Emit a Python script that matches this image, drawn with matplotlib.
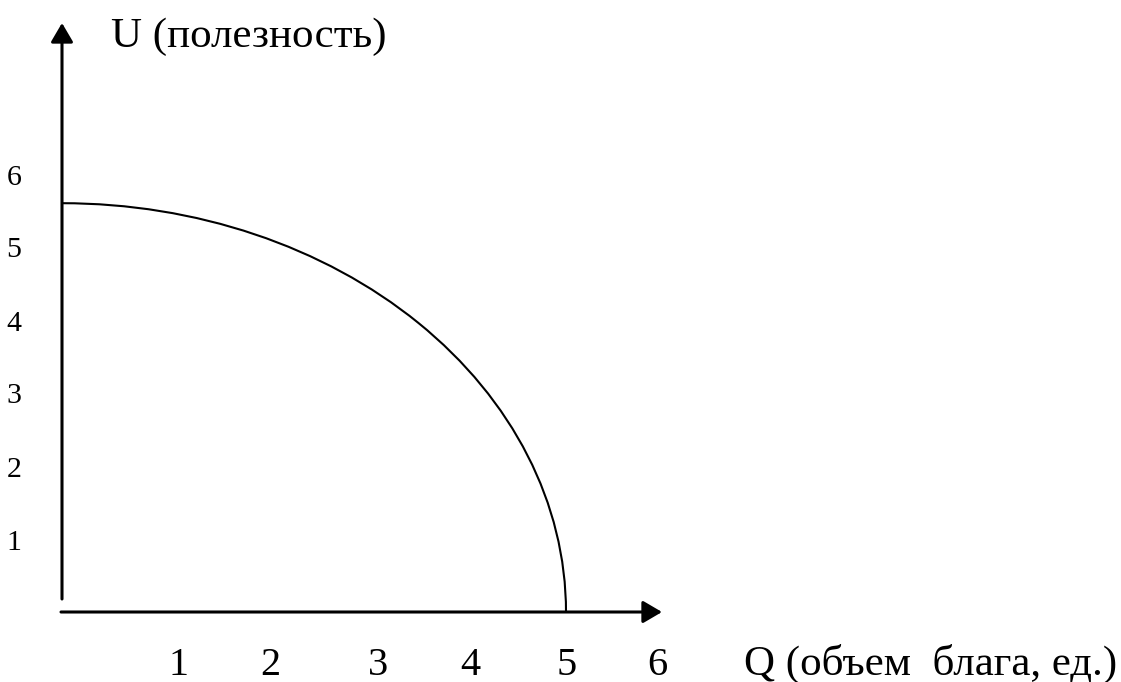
import matplotlib
matplotlib.use("Agg")
import matplotlib.pyplot as plt
from matplotlib.patches import Arc

# ---- data ----
x_ticks = [1, 2, 3, 4, 5, 6]
y_ticks = [1, 2, 3, 4, 5, 6]
q_max = 5.0      # curve meets Q axis
u_max = 5.6      # curve meets U axis
x_label = "Q (объем  блага, ед.)"
y_label = "U (полезность)"

# ---- layout (pixel geometry of the reference) ----
W, H = 1121, 682
ox, oy = 62, 612          # origin in pixels
sx = 100.8                # px per Q unit
sy = 73.0                 # px per U unit
x_label_px = [178, 270, 378, 470, 567, 657]
y_label_base = [550, 477, 403, 331, 257, 185]

def px2x(p):
    return (p - ox) / sx

def py2y(p):
    return (oy - p) / sy

plt.rcParams['font.family'] = ['Liberation Serif', 'DejaVu Serif']

fig = plt.figure(figsize=(W / 100, H / 100), dpi=100)
ax = fig.add_axes([0, 0, 1, 1])
ax.set_xlim(px2x(0), px2x(W))
ax.set_ylim(py2y(H), py2y(0))
ax.axis('off')

astyle = '-|>,head_length=0.58,head_width=0.34'
# axes with arrows
ax.annotate('', xy=(px2x(662), 0), xytext=(px2x(61), 0),
            arrowprops=dict(arrowstyle=astyle, lw=2.2, color='black',
                            mutation_scale=20, shrinkA=0, shrinkB=0))
ax.annotate('', xy=(0, py2y(23)), xytext=(0, py2y(599)),
            arrowprops=dict(arrowstyle=astyle, lw=2.2, color='black',
                            mutation_scale=20, shrinkA=0, shrinkB=0))

# utility curve (quarter ellipse)
ax.add_patch(Arc((0, 0), 2 * q_max, 2 * u_max, theta1=0, theta2=90,
                 lw=1.5, color='black'))

# tick labels
for v, p in zip(x_ticks, x_label_px):
    ax.text(px2x(p), py2y(675), str(v), ha='center', va='baseline',
            fontsize=29, color='black')
for v, p in zip(y_ticks, y_label_base):
    ax.text(px2x(14), py2y(p), str(v), ha='center', va='baseline',
            fontsize=21.5, color='black')

# axis titles
ax.text(px2x(111), py2y(47), y_label, ha='left', va='baseline',
        fontsize=31, color='black')
ax.text(px2x(744), py2y(675), x_label, ha='left', va='baseline',
        fontsize=31, color='black')

fig.savefig('out.png', dpi=100, facecolor='white')
